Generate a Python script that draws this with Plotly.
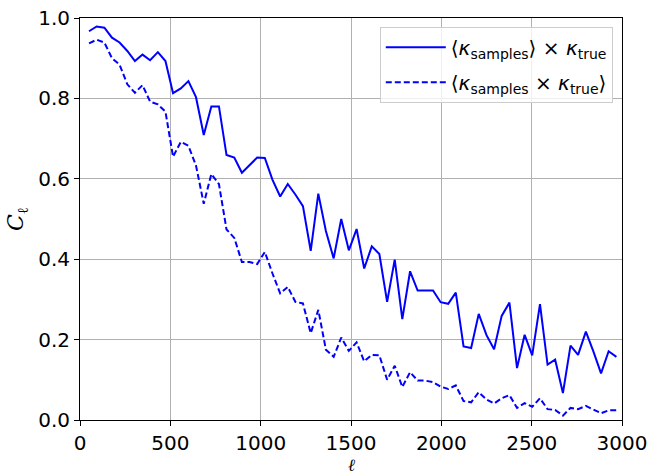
import plotly.graph_objects as go

ell = [50, 92, 135, 177, 219, 262, 304, 346, 388, 431, 473, 515, 558, 600, 642, 685,
       727, 769, 811, 854, 896, 938, 981, 1023, 1065, 1108, 1150, 1192, 1234, 1277,
       1319, 1361, 1404, 1446, 1488, 1531, 1573, 1615, 1657, 1700, 1742, 1784, 1827,
       1869, 1911, 1954, 1996, 2038, 2080, 2123, 2165, 2207, 2250, 2292, 2334, 2377,
       2419, 2461, 2503, 2546, 2588, 2630, 2673, 2715, 2757, 2800, 2842, 2884, 2926, 2969]

c_mean_samples = [0.967, 0.979, 0.976, 0.951, 0.939, 0.918, 0.893, 0.909, 0.895, 0.915,
                  0.893, 0.813, 0.825, 0.843, 0.803, 0.709, 0.780, 0.780, 0.659, 0.653,
                  0.615, 0.635, 0.653, 0.652, 0.598, 0.556, 0.587, 0.561, 0.532, 0.421,
                  0.563, 0.470, 0.402, 0.500, 0.422, 0.475, 0.377, 0.432, 0.413, 0.294,
                  0.399, 0.251, 0.370, 0.322, 0.322, 0.322, 0.293, 0.289, 0.317, 0.183,
                  0.179, 0.264, 0.211, 0.176, 0.259, 0.292, 0.129, 0.212, 0.161, 0.288,
                  0.138, 0.150, 0.067, 0.185, 0.162, 0.220, 0.170, 0.116, 0.171, 0.157]

c_mean_cross = [0.937, 0.946, 0.939, 0.900, 0.884, 0.835, 0.814, 0.833, 0.792, 0.785,
                0.767, 0.655, 0.692, 0.682, 0.633, 0.538, 0.612, 0.587, 0.474, 0.453,
                0.393, 0.393, 0.388, 0.418, 0.365, 0.315, 0.331, 0.294, 0.290, 0.216,
                0.274, 0.175, 0.157, 0.205, 0.172, 0.193, 0.146, 0.162, 0.161, 0.100,
                0.135, 0.082, 0.119, 0.098, 0.098, 0.094, 0.083, 0.077, 0.086, 0.047,
                0.044, 0.069, 0.051, 0.041, 0.054, 0.062, 0.030, 0.042, 0.033, 0.054,
                0.027, 0.025, 0.011, 0.030, 0.027, 0.035, 0.026, 0.017, 0.024, 0.024]

x_label = "<i>ℓ</i>"
y_label = "<i>C</i><sub>ℓ</sub>"
name_solid = "⟨<i>κ</i><sub>samples</sub>⟩ × <i>κ</i><sub>true</sub>"
name_dash = "⟨<i>κ</i><sub>samples</sub> × <i>κ</i><sub>true</sub>⟩"

fig = go.Figure()
fig.add_trace(go.Scatter(x=ell, y=c_mean_samples, mode="lines", name=name_solid,
                         legendgroup="a",
                         line=dict(color="#0000ff", width=2)))
fig.add_trace(go.Scatter(x=ell, y=c_mean_cross, mode="lines", name=name_dash,
                         legendgroup="b",
                         line=dict(color="#0000ff", width=2, dash="6px,3px")))

axis_common = dict(showline=True, linecolor="black", linewidth=1, mirror=True,
                   ticks="outside", ticklen=5, tickwidth=1, tickcolor="black",
                   showgrid=True, gridcolor="#b0b0b0", gridwidth=1, zeroline=False,
                   automargin=False,
                   tickfont=dict(family="DejaVu Sans", size=20, color="black"))

fig.update_layout(
    width=652, height=474,
    margin=dict(l=80, r=30, t=18, b=54),
    plot_bgcolor="white", paper_bgcolor="white",
    showlegend=True,
    legend=dict(x=0.983, y=0.978, xanchor="right", yanchor="top",
                bgcolor="rgba(255,255,255,0.8)", bordercolor="#cccccc", borderwidth=1,
                font=dict(family="DejaVu Sans", size=20, color="black"),
                tracegroupgap=6, itemwidth=60),
    xaxis=dict(range=[0, 3000], tickvals=[0, 500, 1000, 1500, 2000, 2500, 3000],
               **axis_common),
    yaxis=dict(range=[0, 1], tickvals=[0, 0.2, 0.4, 0.6, 0.8, 1.0], tickformat=".1f",
               title=dict(text=y_label, font=dict(family="DejaVu Serif", size=22, color="black"),
                          standoff=8),
               **axis_common),
    annotations=[dict(text=x_label, xref="paper", yref="paper", x=0.5, y=-0.081,
                      xanchor="center", yanchor="top", showarrow=False,
                      font=dict(family="DejaVu Serif", size=17, color="black"))],
)

fig.write_html("out.html")
